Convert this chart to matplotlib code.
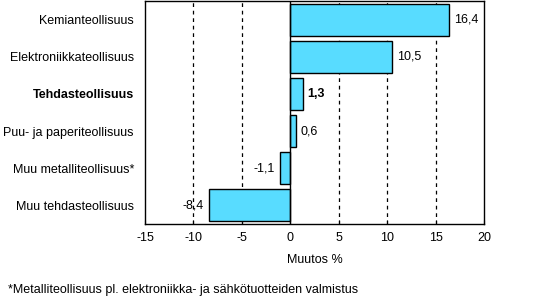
import matplotlib
matplotlib.use('Agg')
import matplotlib.pyplot as plt
import numpy as np

plt.rcParams['font.family'] = ['Liberation Sans', 'DejaVu Sans']

toimialat = ['Kemianteollisuus', 'Elektroniikkateollisuus', 'Tehdasteollisuus',
             'Puu- ja paperiteollisuus', 'Muu metalliteollisuus*', 'Muu tehdasteollisuus']
muutos = [16.4, 10.5, 1.3, 0.6, -1.1, -8.4]
lihavoitu = 'Tehdasteollisuus'
xtiks = [-15, -10, -5, 0, 5, 10, 15, 20]

fs = 9
fig = plt.figure(figsize=(5.33, 2.98), dpi=100)
ax = fig.add_axes([145/533, 1 - 224/298, (484-145)/533, 223/298])

y = np.arange(len(toimialat))
ax.barh(y, muutos, height=0.86, color='#58DCFF', edgecolor='black', linewidth=1.0, zorder=3)

for i, v in enumerate(muutos):
    teksti = ('%.1f' % v).replace('.', ',')
    paino = 'bold' if toimialat[i] == lihavoitu else 'normal'
    if v >= 0:
        ax.text(v + 0.5, i, teksti, va='center', ha='left', fontsize=fs, fontweight=paino, zorder=4)
    else:
        ax.text(v - 0.5, i, teksti, va='center', ha='right', fontsize=fs, fontweight=paino, zorder=4)

for g in [-10, -5, 5, 10, 15]:
    ax.axvline(g, color='black', linestyle=(0, (3, 3)), linewidth=0.9, zorder=1)
ax.axvline(0, color='black', linewidth=1.0, zorder=4)

ax.set_xlim(-15, 20)
ax.set_ylim(len(toimialat) - 0.5, -0.5)
ax.set_xticks(xtiks)
ax.set_xticklabels([str(t) for t in xtiks], fontsize=fs)
ax.set_yticks(y)
ax.set_yticklabels(toimialat, fontsize=fs)
for lab in ax.get_yticklabels():
    if lab.get_text() == lihavoitu:
        lab.set_fontweight('bold')
ax.tick_params(axis='y', length=0, pad=8)
ax.tick_params(axis='x', direction='in', length=3, pad=6)
for s in ax.spines.values():
    s.set_linewidth(1.0)

ax.set_xlabel('Muutos %', fontsize=fs, labelpad=7)
fig.text(8/533, 1 - 296/298, '*Metalliteollisuus pl. elektroniikka- ja sähkötuotteiden valmistus',
         fontsize=fs, va='bottom', ha='left')

fig.savefig('out.png', dpi=100)
